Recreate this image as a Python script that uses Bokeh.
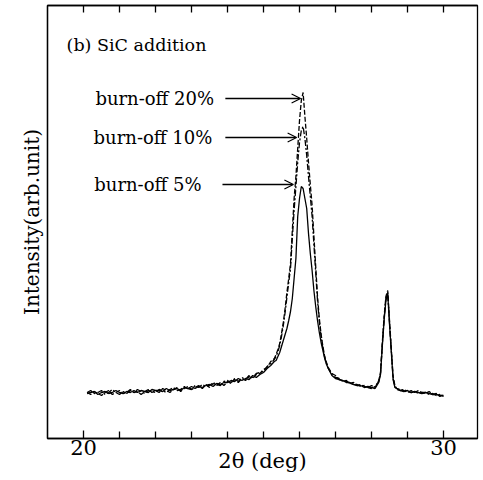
from bokeh.plotting import figure
from bokeh.models import LinearAxis, FixedTicker, Range1d, Label, Arrow, OpenHead
from bokeh.embed import file_html
from bokeh.resources import INLINE

# 2-theta sampling positions (deg)
two_theta = [
    20.1, 20.2, 20.3, 20.4, 20.5, 20.6, 20.7, 20.8, 20.9, 21.0,
    21.1, 21.2, 21.3, 21.4, 21.5, 21.6, 21.7, 21.8, 21.9, 22.0,
    22.1, 22.2, 22.3, 22.4, 22.5, 22.6, 22.7, 22.8, 22.9, 23.0,
    23.1, 23.2, 23.3, 23.4, 23.5, 23.6, 23.7, 23.8, 23.9, 24.0,
    24.1, 24.2, 24.3, 24.4, 24.5, 24.6, 24.7, 24.8, 24.9, 25.0,
    25.1, 25.2, 25.3,
    25.35, 25.40, 25.45, 25.50, 25.55, 25.60, 25.65, 25.70, 25.75, 25.80,
    25.85, 25.90, 25.95, 26.00, 26.05, 26.10, 26.15, 26.20, 26.25, 26.30,
    26.35, 26.40, 26.45, 26.50, 26.55, 26.60, 26.65, 26.70, 26.75, 26.80,
    26.9, 27.0, 27.1, 27.2, 27.3, 27.4, 27.5, 27.6, 27.7, 27.8, 27.9, 28.0, 28.1, 28.2,
    28.25, 28.30, 28.35, 28.40, 28.45, 28.50, 28.55, 28.60, 28.65,
    28.7, 28.8, 28.9, 29.0, 29.1, 29.2, 29.3, 29.4, 29.5, 29.6, 29.7, 29.8, 29.9, 30.0,
]

# intensities (arb. unit)
burnoff_20 = [
    46, 44, 47, 45, 43, 46, 48, 44, 46, 48,
    45, 46, 49, 46, 47, 44, 47, 49, 46, 48,
    46, 50, 48, 46, 49, 51, 47, 50, 52, 49,
    51, 53, 50, 54, 51, 55, 53, 56, 53, 57,
    55, 59, 56, 60, 58, 62, 60, 64, 65, 69,
    71, 77, 80,
    84, 89, 95, 105, 116, 130, 146, 160, 175, 208,
    240, 262, 290, 318, 338, 346, 322, 300, 276, 254,
    233, 202, 172, 142, 120, 104, 92, 82, 76, 71,
    65, 63, 59, 58, 57, 55, 56, 53, 54, 52, 51, 53, 51, 58,
    66, 96, 122, 142, 148, 118, 90, 62, 53,
    50, 49, 48, 46, 48, 46, 48, 46, 45, 47, 44, 45, 42, 44,
]
burnoff_10 = [
    46, 48, 45, 46, 48, 44, 46, 49, 46, 44,
    47, 45, 48, 46, 49, 47, 45, 48, 47, 46,
    49, 48, 46, 49, 51, 48, 49, 52, 50, 49,
    53, 51, 54, 52, 53, 56, 54, 53, 57, 58,
    56, 60, 57, 61, 59, 63, 61, 65, 66, 67,
    72, 75, 79,
    82, 87, 93, 102, 113, 126, 141, 156, 170, 200,
    228, 252, 276, 296, 308, 312, 300, 283, 262, 242,
    222, 194, 166, 138, 117, 102, 90, 81, 75, 70,
    64, 61, 60, 57, 58, 55, 54, 54, 52, 53, 51, 50, 52, 57,
    65, 94, 120, 140, 146, 116, 88, 60, 52,
    49, 48, 49, 47, 46, 47, 45, 46, 46, 44, 45, 43, 44, 42,
]
burnoff_5 = [
    45, 46, 47, 44, 46, 47, 45, 46, 48, 46,
    45, 47, 46, 48, 46, 48, 47, 46, 49, 48,
    48, 47, 50, 48, 49, 50, 48, 51, 50, 52,
    50, 52, 51, 53, 54, 52, 55, 54, 56, 56,
    58, 57, 60, 58, 60, 59, 63, 61, 64, 66,
    70, 73, 77,
    78, 82, 86, 92, 98, 104, 110, 118, 127, 140,
    160, 180, 222, 240, 252, 250, 240, 230, 205, 185,
    168, 148, 132, 118, 106, 96, 88, 80, 74, 70,
    63, 60, 59, 58, 56, 56, 54, 53, 53, 51, 52, 51, 50, 56,
    64, 92, 118, 138, 145, 114, 86, 59, 51,
    50, 48, 47, 48, 46, 47, 46, 45, 46, 45, 44, 44, 43, 43,
]

major_ticks = [20, 30]
minor_ticks = [21, 22, 23, 24, 25, 26, 27, 28, 29]

FONT = "DejaVu Serif"

p = figure(width=480, height=480, output_backend="svg", toolbar_location=None,
           x_range=Range1d(19.0, 30.944), y_range=Range1d(0, 433),
           min_border_left=47, min_border_right=3, min_border_top=5, min_border_bottom=42,
           background_fill_color="white", border_fill_color="white")
p.grid.visible = False
p.outline_line_color = "black"
p.outline_line_width = 1.3

xa = p.xaxis[0]
xa.ticker = FixedTicker(ticks=major_ticks, minor_ticks=minor_ticks)
xa.major_tick_in = 8
xa.major_tick_out = 0
xa.minor_tick_in = 7
xa.minor_tick_out = 0
xa.major_tick_line_width = 1.3
xa.minor_tick_line_width = 1.3
xa.axis_line_width = 1.3
xa.major_label_text_font = FONT
xa.major_label_text_font_size = "21px"
xa.major_label_text_color = "black"
xa.major_label_standoff = 1
xa.axis_label = "2\u03b8 (deg)"
xa.axis_label_text_font = FONT
xa.axis_label_text_font_size = "21px"
xa.axis_label_text_font_style = "normal"
xa.axis_label_text_color = "black"
xa.axis_label_standoff = -9

ya = p.yaxis[0]
ya.ticker = FixedTicker(ticks=[])
ya.major_tick_in = 0
ya.major_tick_out = 0
ya.minor_tick_in = 0
ya.minor_tick_out = 0
ya.axis_line_width = 1.3
ya.axis_label = "Intensity(arb.unit)"
ya.axis_label_text_font = FONT
ya.axis_label_text_font_size = "20px"
ya.axis_label_text_font_style = "normal"
ya.axis_label_text_color = "black"
ya.axis_label_standoff = 4

top = LinearAxis(ticker=FixedTicker(ticks=major_ticks + minor_ticks),
                 major_tick_in=7, major_tick_out=0, minor_tick_in=0, minor_tick_out=0,
                 major_label_overrides={t: "" for t in major_ticks + minor_ticks},
                 major_label_text_font_size="2px", major_label_standoff=0,
                 major_tick_line_width=1.3, axis_line_width=1.3)
p.add_layout(top, "above")

p.line(two_theta, burnoff_5, line_color="black", line_width=1.3)
p.line(two_theta, burnoff_10, line_color="black", line_width=1.3, line_dash="6 2 2 2")
p.line(two_theta, burnoff_20, line_color="black", line_width=1.3, line_dash="5 2")

def txt(x, y, s, size):
    p.add_layout(Label(x=x, y=y, text=s, text_font=FONT, text_font_size=size,
                       text_color="black", text_align="left", text_baseline="middle"))

txt(19.53, 394, "(b) SiC addition", "17.5px")
txt(20.33, 340, "burn-off 20%", "18px")
txt(20.28, 301, "burn-off 10%", "18px")
txt(20.30, 254, "burn-off 5%", "18px")

for (x0, x1, y) in [(23.94, 26.03, 340), (23.94, 25.92, 301), (23.86, 25.83, 254)]:
    p.add_layout(Arrow(end=OpenHead(size=9, line_width=1.2, line_color="black"),
                       x_start=x0, y_start=y, x_end=x1, y_end=y,
                       line_width=1.4, line_color="black"))

open("out.html", "w").write(file_html(p, INLINE))
